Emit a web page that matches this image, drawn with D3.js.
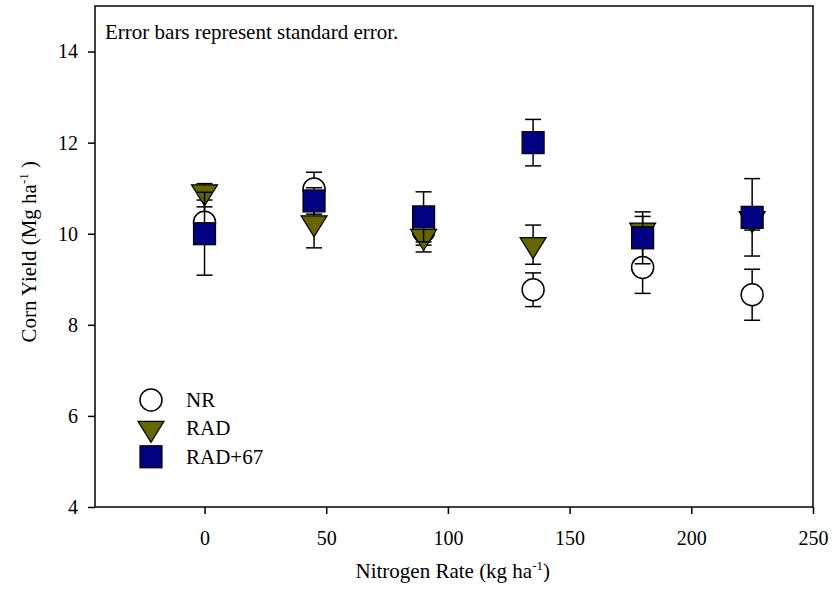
<!DOCTYPE html>
<html>
<head>
<meta charset="utf-8">
<script src="https://cdn.jsdelivr.net/npm/d3@7"></script>
<style>
  body { margin: 0; background: #fff; }
  svg text { font-family: "Times New Roman", "Liberation Serif", serif; fill: #000; }
</style>
</head>
<body>
<div id="chart"></div>
<script>
// nitrogen rates (kg/ha)
var rates = [0, 45, 90, 135, 180, 225];

// corn yield means and standard errors (Mg/ha)
var nrMean = [10.25, 10.98, 10.05, 8.77, 9.26, 8.66];
var nrSe = [0.34, 0.37, 0.30, 0.37, 0.57, 0.56];
var radMean = [10.92, 10.24, 9.94, 9.76, 10.08, 10.33];
var radSe = [0.18, 0.55, 0.34, 0.43, 0.30, 0.25];
var rad67Mean = [10.0, 10.72, 10.37, 12.0, 9.91, 10.36];
var rad67Se = [0.91, 0.29, 0.55, 0.51, 0.57, 0.85];

var xTicks = [0, 50, 100, 150, 200, 250];
var yTicks = [4, 6, 8, 10, 12, 14];

var seriesNames = ["NR", "RAD", "RAD+67"];

var margin = {top: 6, left: 95},
    width = 718,
    height = 501;

var svg = d3.select("#chart").append("svg")
  .attr("width", 834)
  .attr("height", 590);

var g = svg.append("g")
  .attr("transform", "translate(" + margin.left + "," + margin.top + ")");

var x = d3.scaleLinear().domain([-45, 250]).range([0, width]);
var y = d3.scaleLinear().domain([4, 15]).range([height, 0]);

// symbols
function circleSym(sel) {
  sel.append("circle").attr("r", 11)
    .attr("fill", "#fff").attr("stroke", "#000").attr("stroke-width", 1.5);
}
function triSym(sel) {
  // tip down, origin at the centroid
  sel.append("path").attr("d", "M-13,-7L13,-7L0,14Z")
    .attr("fill", "#666600").attr("stroke", "#000").attr("stroke-width", 1.2);
}
function squareSym(sel) {
  sel.append("rect").attr("x", -11).attr("y", -11).attr("width", 22).attr("height", 22)
    .attr("fill", "#000080").attr("stroke", "#000").attr("stroke-width", 1.2);
}

var series = [
  {mean: nrMean, se: nrSe, sym: circleSym},
  {mean: radMean, se: radSe, sym: triSym},
  {mean: rad67Mean, se: rad67Se, sym: squareSym}
];

series.forEach(function(s) {
  var pts = rates.map(function(r, i) { return {x: r, m: s.mean[i], e: s.se[i]}; });
  var eb = g.append("g").selectAll("g").data(pts).enter().append("g")
    .attr("stroke", "#000").attr("stroke-width", 1.5);
  eb.append("line")
    .attr("x1", function(d) { return x(d.x); })
    .attr("x2", function(d) { return x(d.x); })
    .attr("y1", function(d) { return y(d.m - d.e); })
    .attr("y2", function(d) { return y(d.m + d.e); });
  [-1, 1].forEach(function(k) {
    eb.append("line")
      .attr("x1", function(d) { return x(d.x) - 8; })
      .attr("x2", function(d) { return x(d.x) + 8; })
      .attr("y1", function(d) { return y(d.m + k * d.e); })
      .attr("y2", function(d) { return y(d.m + k * d.e); });
  });
  g.append("g").selectAll("g").data(pts).enter().append("g")
    .attr("transform", function(d) { return "translate(" + x(d.x) + "," + y(d.m) + ")"; })
    .call(s.sym);
});

// frame
g.append("rect").attr("width", width).attr("height", height)
  .attr("fill", "none").attr("stroke", "#000").attr("stroke-width", 1.5);

var xAxis = g.append("g").attr("transform", "translate(0," + height + ")")
  .call(d3.axisBottom(x).tickValues(xTicks).tickSize(7).tickPadding(17));
var yAxis = g.append("g")
  .call(d3.axisLeft(y).tickValues(yTicks).tickSize(7).tickPadding(10));
[xAxis, yAxis].forEach(function(a) {
  a.select(".domain").remove();
  a.selectAll("line").attr("stroke-width", 1.5);
  a.selectAll("text").style("font-size", "20px")
    .style("font-family", '"Times New Roman", "Liberation Serif", serif');
});

// note
g.append("text").attr("x", 10).attr("y", 33).style("font-size", "21px")
  .text("Error bars represent standard error.");

// legend
var legend = g.append("g").attr("transform", "translate(" + x(-22) + "," + y(6.35) + ")");
[circleSym, triSym, squareSym].forEach(function(sym, i) {
  var row = legend.append("g").attr("transform", "translate(0," + (i * 28.4) + ")");
  row.append("g").call(sym);
  row.append("text").attr("x", 35).attr("y", 7).style("font-size", "21px").text(seriesNames[i]);
});

// axis titles
var xt = svg.append("text").attr("x", margin.left + x(102)).attr("y", 578)
  .attr("text-anchor", "middle").style("font-size", "21px");
xt.append("tspan").text("Nitrogen Rate (kg ha");
xt.append("tspan").attr("dy", -8).style("font-size", "13px").text("-1");
xt.append("tspan").attr("dy", 8).text(")");

var yt = svg.append("text")
  .attr("transform", "translate(36," + (margin.top + y(10) + 18) + ") rotate(-90)")
  .attr("text-anchor", "middle").style("font-size", "21px");
yt.append("tspan").text("Corn Yield (Mg ha");
yt.append("tspan").attr("dy", -8).style("font-size", "13px").text("-1");
yt.append("tspan").attr("dy", 8).text(" )");
</script>
</body>
</html>
